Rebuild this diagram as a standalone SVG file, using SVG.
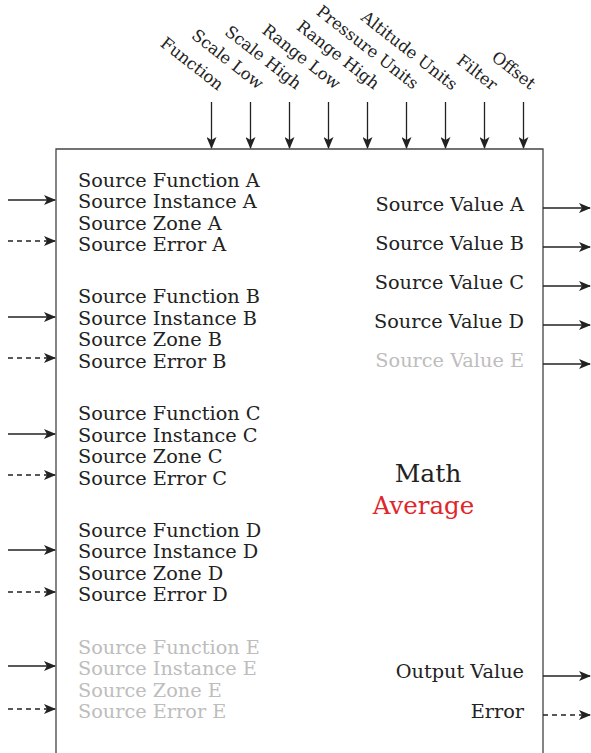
<svg xmlns="http://www.w3.org/2000/svg" width="591" height="753" viewBox="0 0 591 753">
<defs>
<marker id="ah" markerWidth="12" markerHeight="10" refX="11" refY="5" orient="auto" markerUnits="userSpaceOnUse">
<path d="M0,0 L12,5 L0,10 L3,5 Z" fill="#222"/>
</marker>
<style>
.t{font-family:"DejaVu Serif","Liberation Serif",serif;font-size:19.3px;fill:#222}
.g{fill:#bdbdbd}
.r{text-anchor:end}
.c{stroke:#222;stroke-width:1.3;fill:none;marker-end:url(#ah)}
.d{stroke-dasharray:5,4}
.top{font-family:"DejaVu Serif","Liberation Serif",serif;font-size:16.5px;fill:#222;text-anchor:end}
</style>
</defs>
<rect width="591" height="753" fill="#fff"/>
<g id="block">
<path d="M56,760 L56,149 L543,149 L543,760" fill="none" stroke="#444" stroke-width="1.3"/>
<text class="t" x="428" y="482" text-anchor="middle" style="font-size:25px">Math</text>
<text class="t" x="423.5" y="514" text-anchor="middle" style="font-size:24.5px;fill:#e0262b">Average</text>
</g>
<g id="top-labels">
<text class="top" transform="translate(218,91) rotate(38)">Function</text>
<text class="top g" transform="translate(258,90) rotate(38)">Scale Low</text>
<text class="top g" transform="translate(296,90) rotate(38)">Scale High</text>
<text class="top g" transform="translate(335,90) rotate(38)">Range Low</text>
<text class="top g" transform="translate(374,90) rotate(38)">Range High</text>
<text class="top g" transform="translate(413,90) rotate(38)">Pressure Units</text>
<text class="top g" transform="translate(452,91) rotate(38)">Altitude Units</text>
<text class="top" transform="translate(492,91) rotate(38)">Filter</text>
<text class="top" transform="translate(530,90) rotate(38)">Offset</text>
</g>
<g id="inputs-A">
<text class="t" x="78" y="187">Source Function A</text>
<text class="t" x="78" y="208">Source Instance A</text>
<text class="t" x="78" y="230">Source Zone A</text>
<text class="t" x="78" y="251">Source Error A</text>
</g>
<g id="inputs-B">
<text class="t" x="78" y="303">Source Function B</text>
<text class="t" x="78" y="325">Source Instance B</text>
<text class="t" x="78" y="346">Source Zone B</text>
<text class="t" x="78" y="368">Source Error B</text>
</g>
<g id="inputs-C">
<text class="t" x="78" y="420">Source Function C</text>
<text class="t" x="78" y="442">Source Instance C</text>
<text class="t" x="78" y="463">Source Zone C</text>
<text class="t" x="78" y="485">Source Error C</text>
</g>
<g id="inputs-D">
<text class="t" x="78" y="537">Source Function D</text>
<text class="t" x="78" y="558">Source Instance D</text>
<text class="t" x="78" y="580">Source Zone D</text>
<text class="t" x="78" y="601">Source Error D</text>
</g>
<g id="inputs-E">
<text class="t g" x="78" y="654">Source Function E</text>
<text class="t g" x="78" y="675">Source Instance E</text>
<text class="t g" x="78" y="697">Source Zone E</text>
<text class="t g" x="78" y="718">Source Error E</text>
</g>
<g id="outputs">
<text class="t r" x="524" y="211">Source Value A</text>
<text class="t r" x="524" y="250">Source Value B</text>
<text class="t r" x="524" y="289">Source Value C</text>
<text class="t r" x="524" y="328">Source Value D</text>
<text class="t r g" x="524" y="367">Source Value E</text>
<text class="t r" x="524" y="678">Output Value</text>
<text class="t r" x="524" y="718">Error</text>
</g>
<g id="connectors">
<line class="c" x1="211.5" y1="102" x2="211.5" y2="148"/>
<line class="c" x1="250.5" y1="102" x2="250.5" y2="148"/>
<line class="c" x1="289.5" y1="102" x2="289.5" y2="148"/>
<line class="c" x1="328.5" y1="102" x2="328.5" y2="148"/>
<line class="c" x1="367.5" y1="102" x2="367.5" y2="148"/>
<line class="c" x1="406.5" y1="102" x2="406.5" y2="148"/>
<line class="c" x1="445.5" y1="102" x2="445.5" y2="148"/>
<line class="c" x1="484.5" y1="102" x2="484.5" y2="148"/>
<line class="c" x1="523.5" y1="102" x2="523.5" y2="148"/>
<line class="c" x1="8" y1="200" x2="55" y2="200"/>
<line class="c d" x1="8" y1="241" x2="55" y2="241"/>
<line class="c" x1="8" y1="317" x2="55" y2="317"/>
<line class="c d" x1="8" y1="358" x2="55" y2="358"/>
<line class="c" x1="8" y1="434" x2="55" y2="434"/>
<line class="c d" x1="8" y1="475" x2="55" y2="475"/>
<line class="c" x1="8" y1="550" x2="55" y2="550"/>
<line class="c d" x1="8" y1="592" x2="55" y2="592"/>
<line class="c" x1="8" y1="666" x2="55" y2="666"/>
<line class="c d" x1="8" y1="709" x2="55" y2="709"/>
<line class="c" x1="543" y1="208" x2="590" y2="208"/>
<line class="c" x1="543" y1="247" x2="590" y2="247"/>
<line class="c" x1="543" y1="286" x2="590" y2="286"/>
<line class="c" x1="543" y1="325" x2="590" y2="325"/>
<line class="c" x1="543" y1="364" x2="590" y2="364"/>
<line class="c" x1="543" y1="676" x2="590" y2="676"/>
<line class="c d" x1="543" y1="715" x2="590" y2="715"/>
</g>
</svg>
